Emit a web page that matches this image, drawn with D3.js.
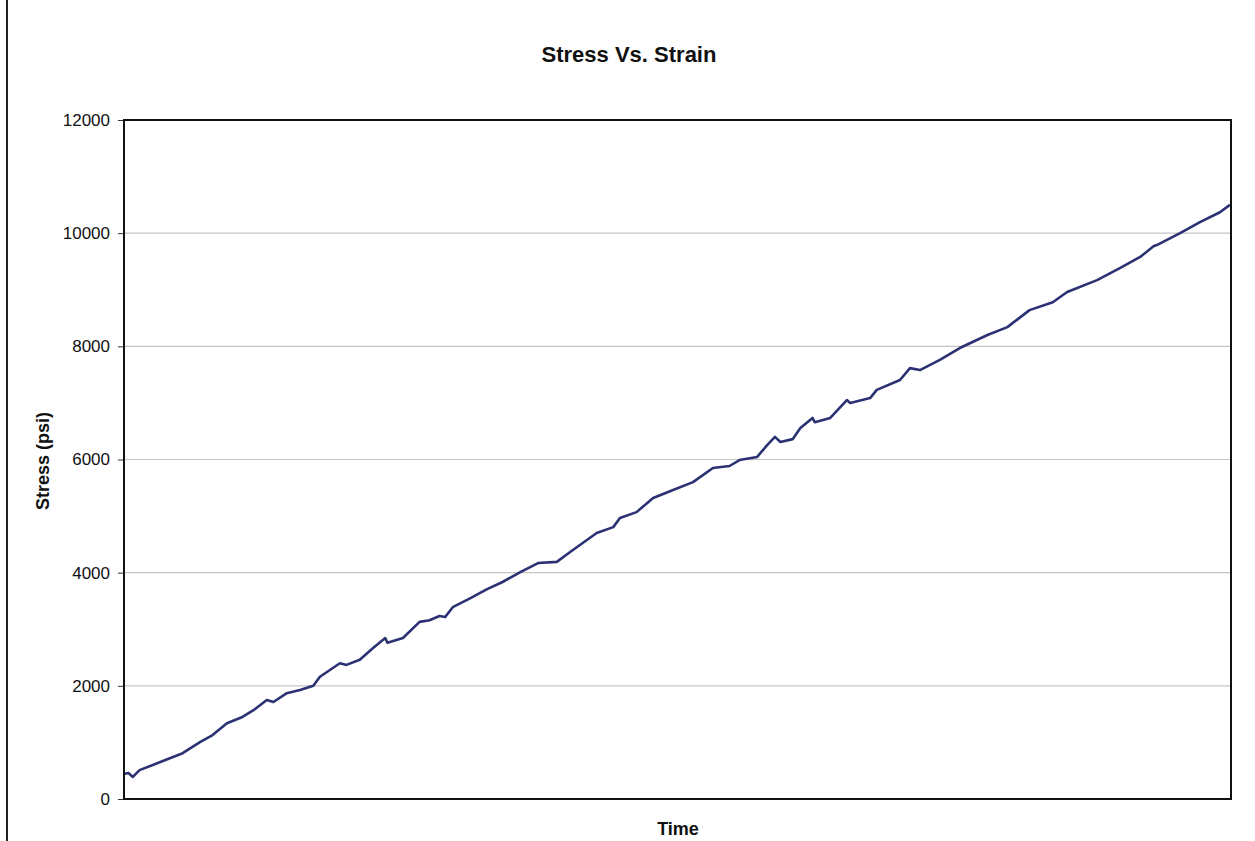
<!DOCTYPE html>
<html>
<head>
<meta charset="utf-8">
<script src="https://cdn.jsdelivr.net/npm/d3@7"></script>
<style>
  body { margin: 0; background: #fff; }
  svg { display: block; font-family: Arial, "Liberation Sans", sans-serif; }
</style>
</head>
<body>
<svg id="chart"></svg>
<script>
const width = 1255;
const height = 841;

// time in arbitrary units (no ticks shown on the x axis)
const time = [0, 4, 8, 14, 26, 42, 53, 69, 80, 93, 107, 117, 129, 135, 147, 159, 171, 177, 195, 201,
  213, 225, 236, 238, 252, 267, 276, 285, 290, 297, 313, 328, 342, 358, 374, 391, 403, 427, 442, 448,
  463, 478, 496, 514, 532, 547, 556, 572, 581, 588, 593, 604, 611, 622, 624, 638, 653, 656, 674, 680,
  701, 710, 719, 737, 755, 780, 798, 818, 839, 852, 879, 900, 918, 930, 933, 954, 972, 990, 999];

const stress = [442, 460, 390, 510, 600, 725, 810, 1010, 1130, 1340, 1450, 1570, 1750, 1715, 1870, 1925, 2000, 2160, 2400, 2370,
  2460, 2670, 2845, 2760, 2845, 3130, 3160, 3235, 3215, 3390, 3550, 3710, 3835, 4010, 4170, 4190, 4365, 4700, 4805, 4965,
  5070, 5320, 5460, 5600, 5850, 5885, 5990, 6045, 6255, 6400, 6310, 6360, 6555, 6735, 6660, 6735, 7050, 7000, 7085, 7230,
  7405, 7615, 7580, 7760, 7970, 8200, 8340, 8640, 8780, 8960, 9170, 9385, 9580, 9770, 9790, 10000, 10195, 10370, 10500];

const yTicks = [0, 2000, 4000, 6000, 8000, 10000, 12000];

const data = time.map((t, i) => ({ t: t, v: stress[i] }));

const margin = { top: 120, right: 24, bottom: 42, left: 124 };

const svg = d3.select("#chart")
  .attr("width", width)
  .attr("height", height);

const x = d3.scaleLinear()
  .domain([0, 1000])
  .range([margin.left, width - margin.right]);

const y = d3.scaleLinear()
  .domain([0, 12000])
  .range([height - margin.bottom, margin.top]);

// outer chart border (left edge only visible in the scan)
svg.append("line")
  .attr("x1", 7).attr("x2", 7)
  .attr("y1", 0).attr("y2", height)
  .attr("stroke", "#222")
  .attr("stroke-width", 2);

// gridlines
svg.append("g")
  .selectAll("line")
  .data(yTicks.filter(d => d > 0 && d < 12000))
  .join("line")
  .attr("x1", x(0)).attr("x2", x(1000))
  .attr("y1", d => y(d)).attr("y2", d => y(d))
  .attr("stroke", "#c4c4c4")
  .attr("stroke-width", 1.2);

// y axis
const yAxis = svg.append("g")
  .attr("transform", `translate(${margin.left},0)`)
  .call(d3.axisLeft(y).tickValues(yTicks).tickSize(6).tickPadding(8).tickFormat(d3.format("d")));
yAxis.select(".domain").remove();
yAxis.selectAll("text")
  .attr("font-size", 17)
  .attr("fill", "#111")
  .style("font-family", "Arial, 'Liberation Sans', sans-serif");
yAxis.selectAll("line").attr("stroke", "#333");

// data line
svg.append("path")
  .datum(data)
  .attr("fill", "none")
  .attr("stroke", "#2b3173")
  .attr("stroke-width", 2.6)
  .attr("stroke-linejoin", "round")
  .attr("d", d3.line().x(d => x(d.t)).y(d => y(d.v)));

// plot frame
svg.append("rect")
  .attr("x", x(0)).attr("y", y(12000))
  .attr("width", x(1000) - x(0))
  .attr("height", y(0) - y(12000))
  .attr("fill", "none")
  .attr("stroke", "#111")
  .attr("stroke-width", 2);

// title and axis labels
svg.append("text")
  .attr("x", 629).attr("y", 62)
  .attr("text-anchor", "middle")
  .attr("font-size", 22)
  .attr("font-weight", "bold")
  .attr("fill", "#111")
  .text("Stress Vs. Strain");

svg.append("text")
  .attr("x", 678).attr("y", 835)
  .attr("text-anchor", "middle")
  .attr("font-size", 18)
  .attr("font-weight", "bold")
  .attr("fill", "#111")
  .text("Time");

svg.append("text")
  .attr("transform", "translate(49,461) rotate(-90)")
  .attr("text-anchor", "middle")
  .attr("font-size", 18)
  .attr("font-weight", "bold")
  .attr("fill", "#111")
  .text("Stress (psi)");
</script>
</body>
</html>
